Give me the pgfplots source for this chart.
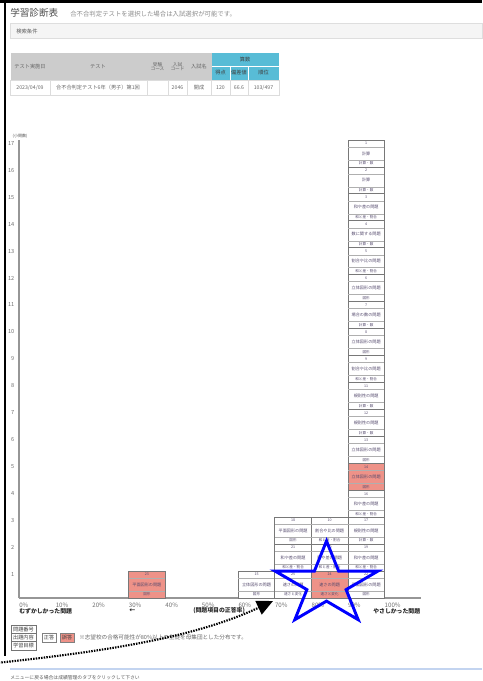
\documentclass[border=0pt]{standalone}
\usepackage{fontspec}
\setmainfont{Noto Sans CJK JP}
\usepackage{pgfplots}
\pgfplotsset{compat=1.18}
\usetikzlibrary{arrows.meta}

\definecolor{wrongred}{RGB}{238,146,136}
\definecolor{cellborder}{RGB}{120,120,120}
\definecolor{cellinner}{RGB}{175,175,175}
\definecolor{celltext}{RGB}{85,75,110}
\definecolor{axisgray}{RGB}{150,150,150}
\definecolor{ticktext}{RGB}{110,110,110}
\definecolor{hdrgray}{RGB}{204,204,204}
\definecolor{hdrcyan}{RGB}{88,188,214}
\definecolor{boxgray}{RGB}{245,245,245}
\definecolor{boxline}{RGB}{222,222,222}
\definecolor{tableline}{RGB}{220,220,220}
\definecolor{menuline}{RGB}{195,212,240}

\newcommand{\fs}[1]{\fontsize{#1}{#1}\selectfont}

% one question cell: x0, x1, y0, y1, number, content, goal, fill
\newcommand{\cell}[8]{%
  \addplot[draw=cellborder, fill=#8, line width=0.6pt] coordinates {(#1,#3) (#2,#3) (#2,#4) (#1,#4)} -- cycle;
  \draw[cellinner, line width=0.35pt] (axis cs:#1,{#4-0.26}) -- (axis cs:#2,{#4-0.26});
  \draw[cellinner, line width=0.35pt] (axis cs:#1,{#3+0.26}) -- (axis cs:#2,{#3+0.26});
  \node[font=\fs{2.7}, text=celltext, inner sep=0pt] at (axis cs:{(#1+#2)/2},{#4-0.13}) {#5};
  \node[font=\fs{3.1}, text=celltext, inner sep=0pt] at (axis cs:{(#1+#2)/2},{(#3+#4)/2}) {#6};
  \node[font=\fs{2.7}, text=celltext, inner sep=0pt] at (axis cs:{(#1+#2)/2},{#3+0.13}) {#7};
}

\begin{document}
\begin{tikzpicture}
\begin{scope}[x=0.75pt, y=-0.75pt]
  \path (0,0) rectangle (482,681);
  % title
  \node[anchor=west, inner sep=0pt, font=\fs{7.2}, text=black!70] at (10,13) {学習診断表};
  \node[anchor=west, inner sep=0pt, font=\fs{4.8}, text=black!45] at (70,14) {合不合判定テストを選択した場合は入試選択が可能です。};
  % search box
  \filldraw[fill=boxgray, draw=boxline, line width=0.5pt] (10,23.5) rectangle (482,38);
  \node[anchor=west, inner sep=0pt, font=\fs{4}, text=black!65] at (16,31) {検索条件};
  % table header
  \fill[hdrgray] (10.5,53) rectangle (211,80);
  \fill[hdrcyan] (211,53) rectangle (279,80);
  \draw[white, line width=0.5pt] (211,66) -- (279,66) (230,66) -- (230,80) (248,66) -- (248,80);
  \draw[black!20, line width=0.4pt] (50,53) -- (50,80) (147,53) -- (147,80) (168,53) -- (168,80) (187,53) -- (187,80) (211,53) -- (211,80);
  \draw[tableline, line width=0.5pt] (10.5,80) rectangle (279,95);
  \foreach \xx in {50,147,168,187,211,230,248} \draw[tableline, line width=0.5pt] (\xx,80) -- (\xx,95);
  \begin{scope}[every node/.style={inner sep=0pt, font=\fs{3.9}, text=black!60, align=center}]
    \node at (30,66.5) {テスト実施日};
    \node at (98,66.5) {テスト};
    \node[font=\fs{3.5}] at (157.5,66.5) {受験\\[-0.2pt]コース};
    \node[font=\fs{3.5}] at (177.5,66.5) {入試\\[-0.2pt]コード};
    \node at (199,66.5) {入試名};
    \node[text=black!75] at (245,59.5) {算数};
    \node[text=black!75] at (220.5,73) {得点};
    \node[text=black!75] at (239,73) {偏差値};
    \node[text=black!75] at (263.5,73) {順位};
    \node at (30,87.5) {2023/04/09};
    \node at (98,87.5) {合不合判定テスト6年（男子）第1回};
    \node at (177.5,87.5) {2046};
    \node at (199,87.5) {開成};
    \node at (220.5,87.5) {120};
    \node at (239,87.5) {66.6};
    \node at (263.5,87.5) {103/497};
  \end{scope}
  % axis captions
  \node[inner sep=0pt, font=\fs{3}, text=black!70] at (20,136) {(小問数)};
  \begin{scope}[every node/.style={anchor=west, inner sep=0pt, font=\bfseries\fs{4.4}, text=black!85}]
    \node at (19,611) {むずかしかった問題};
    \node at (129,611) {←};
    \node at (193,611) {(問題項目の正答率)};
    \node at (373,611) {やさしかった問題};
  \end{scope}
  % footer legend
  \draw[black!55, line width=0.5pt] (11,625) rectangle (36,633.3) (11,633.3) rectangle (36,641.7) (11,641.7) rectangle (36,650);
  \begin{scope}[every node/.style={inner sep=0pt, font=\fs{3.9}, text=black!75}]
    \node at (23.5,629.2) {問題番号};
    \node at (23.5,637.5) {出題内容};
    \node at (23.5,645.8) {学習目標};
    \draw[black!50, line width=0.5pt] (42,633) rectangle (56,642);
    \node at (49,637.5) {正答};
    \filldraw[fill=wrongred, draw=black!50, line width=0.5pt] (60,633) rectangle (74,642);
    \node at (67,637.5) {誤答};
  \end{scope}
  \node[anchor=west, inner sep=0pt, font=\fs{4.2}, text=black!60] at (79,637.5) {※志望校の合格可能性が80\%以上の生徒を母集団とした分布です。};
  \draw[menuline, line width=0.8pt] (10,669) -- (482,669);
  \node[anchor=west, inner sep=0pt, font=\fs{3.6}, text=black!65] at (10,678) {メニューに戻る場合は成績管理のタブをクリックして下さい};
\end{scope}

\begin{axis}[
  at={(14.25pt,-448.5pt)}, anchor=south west,
  scale only axis, width=301.5pt, height=343.5pt,
  xmin=0, xmax=110, ymin=0, ymax=17,
  axis lines=left, axis line style={-},
  x axis line style={draw=axisgray, line width=1.4pt},
  y axis line style={draw=axisgray, line width=0.8pt},
  xtick={0,10,...,100},
  xticklabels={0\%,10\%,20\%,30\%,40\%,50\%,60\%,70\%,80\%,90\%,100\%},
  ytick={1,...,17},
  tick style={draw=none},
  xticklabel style={anchor=north west, inner sep=0pt, yshift=-1.6pt, font=\fs{4.6}, text=ticktext},
  yticklabel style={anchor=north east, inner sep=0pt, xshift=-1.2pt, yshift=-0.8pt, font=\fs{4.2}, text=ticktext},
  /pgf/number format/assume math mode=true,
  clip=false,
]
% 30% bin
\cell{30}{40}{0}{1}{23}{平面図形の問題}{図形}{wrongred}
% 60% bin
\cell{60}{70}{0}{1}{15}{立体図形の問題}{図形}{white}
% 70% bin
\cell{70}{80}{0}{1}{25}{速さの問題}{速さと変化}{white}
\cell{70}{80}{1}{2}{21}{和や差の問題}{和と差・割合}{white}
\cell{70}{80}{2}{3}{18}{平面図形の問題}{図形}{white}
% 80% bin
\cell{80}{90}{0}{1}{24}{速さの問題}{速さと変化}{wrongred}
\cell{80}{90}{1}{2}{20}{和や差の問題}{和と差・割合}{white}
\cell{80}{90}{2}{3}{10}{割合や比の問題}{和と差・割合}{white}
% 90% bin
\cell{90}{100}{0}{1}{22}{平面図形の問題}{図形}{white}
\cell{90}{100}{1}{2}{19}{和や差の問題}{和と差・割合}{white}
\cell{90}{100}{2}{3}{17}{規則性の問題}{計算・数}{white}
\cell{90}{100}{3}{4}{16}{和や差の問題}{和と差・割合}{white}
\cell{90}{100}{4}{5}{14}{立体図形の問題}{図形}{wrongred}
\cell{90}{100}{5}{6}{13}{立体図形の問題}{図形}{white}
\cell{90}{100}{6}{7}{12}{規則性の問題}{計算・数}{white}
\cell{90}{100}{7}{8}{11}{規則性の問題}{計算・数}{white}
\cell{90}{100}{8}{9}{9}{割合や比の問題}{和と差・割合}{white}
\cell{90}{100}{9}{10}{8}{立体図形の問題}{図形}{white}
\cell{90}{100}{10}{11}{7}{場合の数の問題}{計算・数}{white}
\cell{90}{100}{11}{12}{6}{立体図形の問題}{図形}{white}
\cell{90}{100}{12}{13}{5}{割合や比の問題}{和と差・割合}{white}
\cell{90}{100}{13}{14}{4}{数に関する問題}{計算・数}{white}
\cell{90}{100}{14}{15}{3}{和や差の問題}{和と差・割合}{white}
\cell{90}{100}{15}{16}{2}{計算}{計算・数}{white}
\cell{90}{100}{16}{17}{1}{計算}{計算・数}{white}
\end{axis}

\begin{scope}[x=0.75pt, y=-0.75pt]
  \clip (0,0) rectangle (482,681);
  % page frame
  \draw[black, line width=2.2pt] (0,1.5) -- (482,1.5);
  \draw[black, line width=2pt] (5,0) -- (5,656);
  % annotations
  \draw[blue, line width=2.2pt, line join=miter]
    (326.5,541) -- (314.4,571.05) -- (275.1,571.1) -- (306.9,589.6) -- (294.8,619.7)
    -- (326.5,601.1) -- (358.2,619.7) -- (346.1,589.6) -- (377.9,571.1) -- (338.6,571.05) -- cycle;
  \draw[black, line width=1.6pt, dash pattern=on 1.1pt off 0.9pt,
        -{Triangle[length=12pt, width=11pt, sep=0pt]}]
    (-4,663) .. controls (120,650) and (200,635) .. (273,601);
\end{scope}
\end{tikzpicture}
\end{document}
